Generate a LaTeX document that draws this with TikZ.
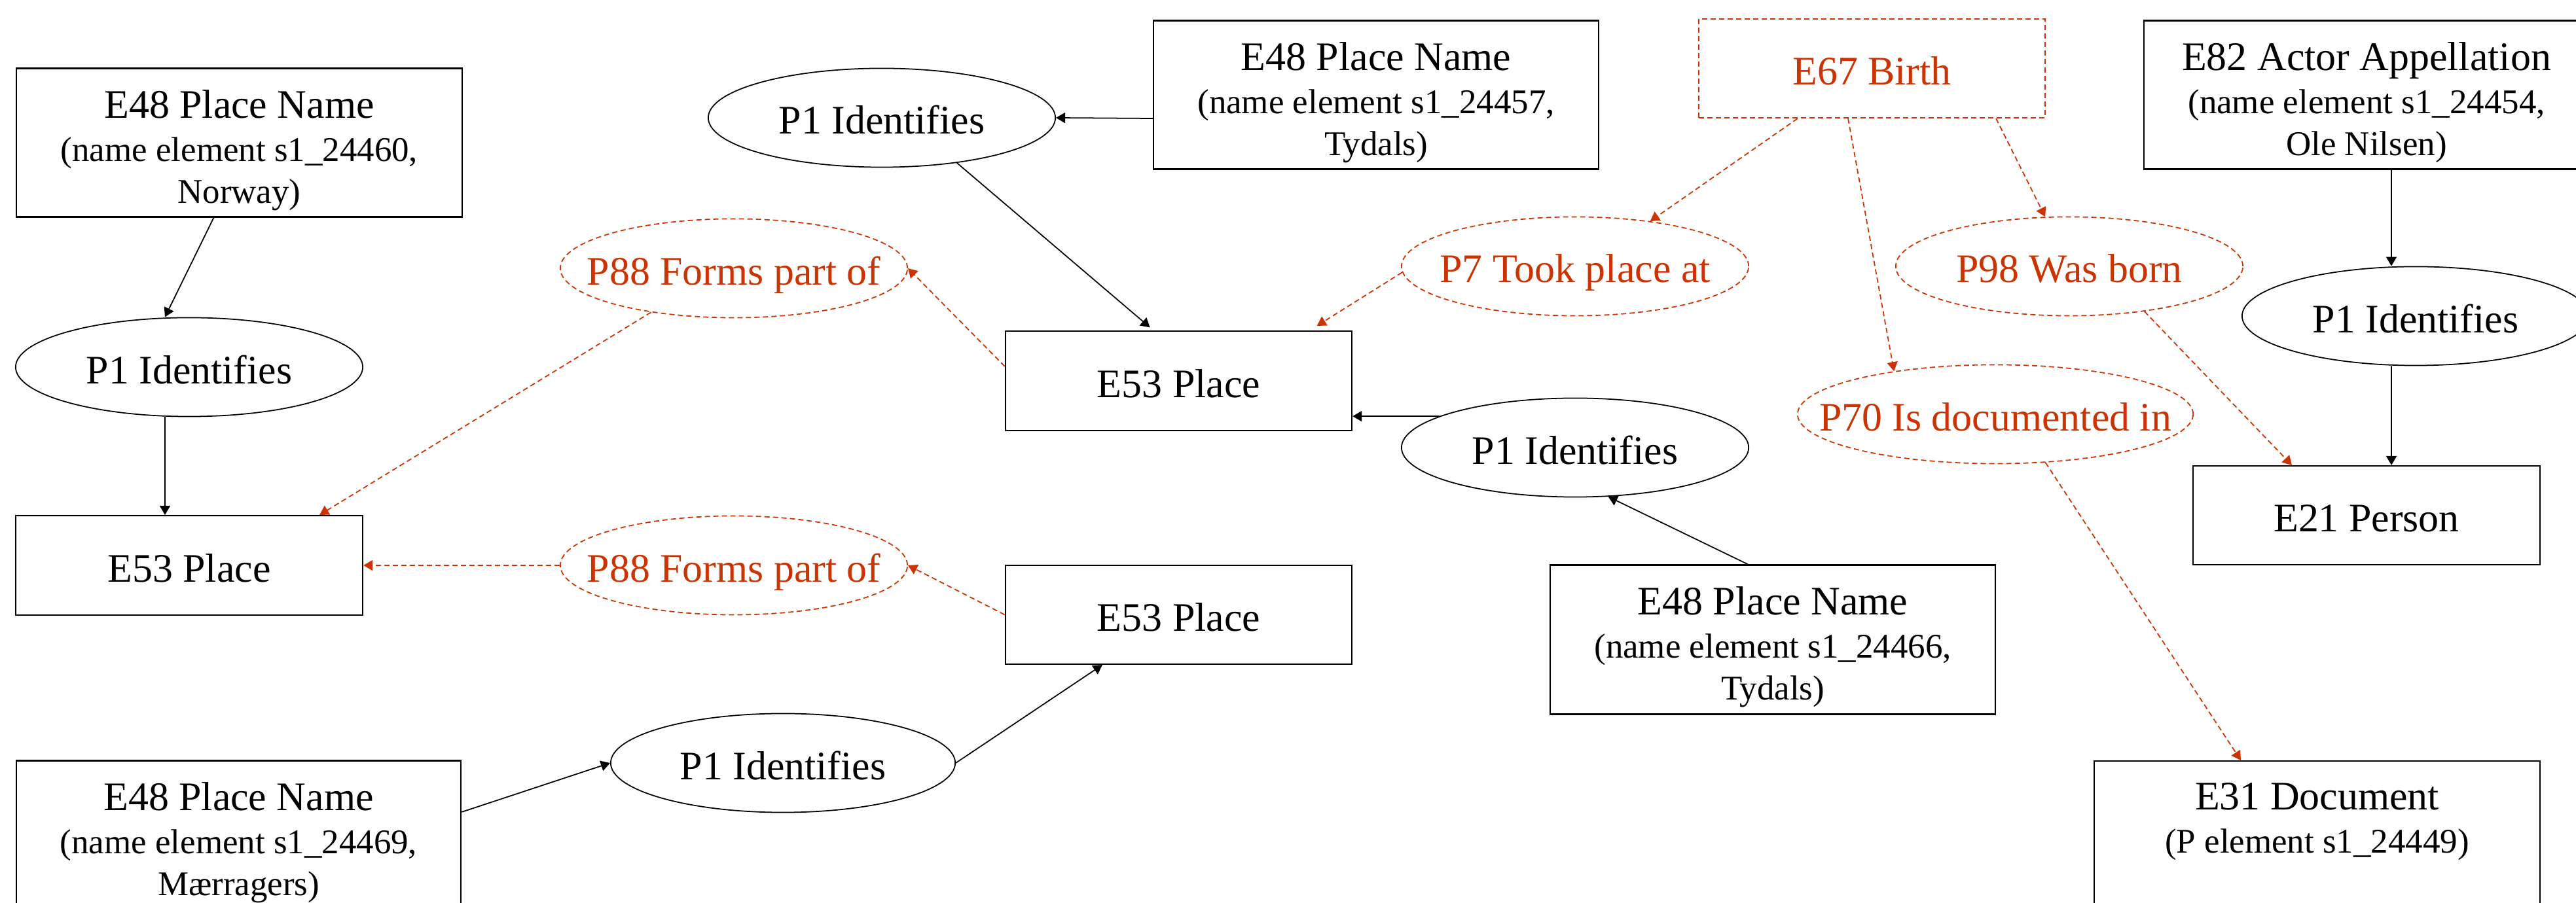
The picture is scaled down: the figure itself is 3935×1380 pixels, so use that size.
\documentclass[tikz,border=0pt]{standalone}
\usepackage{fontspec}
\setmainfont{Liberation Serif}
\usetikzlibrary{arrows.meta,shapes.geometric}
\definecolor{myred}{RGB}{204,51,0}
\newcommand\mytitlefont{\fontsize{17.6pt}{21pt}\selectfont}
\newcommand\mysubfont{\fontsize{15.05pt}{18.2pt}\selectfont}
\begin{document}
\begin{tikzpicture}[x=0.01cm,y=-0.01cm,
  box/.style={rectangle, draw, line width=0.6pt, inner sep=0pt, minimum width=5.3cm, minimum height=1.51cm, font=\mytitlefont, text height=0.5cm, text depth=0cm},
  box3/.style={rectangle, draw, line width=0.6pt, inner sep=0pt, minimum width=6.8cm, minimum height=2.26cm, font=\mysubfont, align=center},
  rel/.style={ellipse, draw, line width=0.5pt, inner sep=0pt, minimum width=5.3cm, minimum height=1.51cm, font=\mytitlefont, text height=0.5cm, text depth=0cm},
  reddash/.style={draw=myred, dash pattern=on 0.08cm off 0.05cm},
  redrel/.style={rel, reddash, text=myred},
  redbox/.style={box, reddash, text=myred},
  arr/.style={draw, line width=0.5pt, -{Triangle[length=0.14cm,width=0.16cm]}},
  rarr/.style={arr, reddash}]
\useasboundingbox (0,0) rectangle (3935,1380);
\clip (0,0) rectangle (3935,1380);

% nodes
\node[box3, minimum width=6.81cm] (en) at (365.5,218) {{\mytitlefont\rule{0pt}{0.76cm}E48 Place Name}\\[0.02cm](name element s1\_24460,\\Norway)\rule[-0.21cm]{0pt}{0pt}};
\node[rel] (pa) at (289,561) {\makebox[0pt]{P1 Identifies}};
\node[box, minimum height=1.52cm] (pl1) at (289,864) {E53 Place};
\node[redrel] (p88a) at (1121,410) {\makebox[0pt]{P88 Forms part of}};
\node[redrel] (p88b) at (1121,864) {\makebox[0pt]{P88 Forms part of}};
\node[rel] (pt) at (1347,180) {\makebox[0pt]{P1 Identifies}};
\node[box3] (et) at (2102,145) {{\mytitlefont\rule{0pt}{0.76cm}E48 Place Name}\\[0.02cm](name element s1\_24457,\\Tydals)\rule[-0.21cm]{0pt}{0pt}};
\node[box, minimum width=5.29cm, minimum height=1.52cm] (pm) at (1800.5,582) {E53 Place};
\node[redrel] (p7) at (2406,407) {\makebox[0pt]{P7 Took place at}};
\node[rel] (p1m) at (2406,684) {\makebox[0pt]{P1 Identifies}};
\node[box3, minimum height=2.27cm] (et2) at (2708,977.5) {{\mytitlefont\rule{0pt}{0.76cm}E48 Place Name}\\[0.02cm](name element s1\_24466,\\Tydals)\rule[-0.22cm]{0pt}{0pt}};
\node[redbox, minimum width=5.29cm] (birth) at (2859.5,104.5) {E67 Birth};
\node[redrel] (p98) at (3161,407) {\makebox[0pt]{P98 Was born}};
\node[redrel, minimum width=6.04cm] (p70) at (3048,633) {\makebox[0pt]{P70 Is documented in}};
\node[box3] (e82) at (3615,145) {{\mytitlefont\rule{0pt}{0.76cm}E82 Actor Appellation}\\[0.02cm](name element s1\_24454,\\Ole Nilsen)\rule[-0.21cm]{0pt}{0pt}};
\node[rel] (p1r) at (3690,483) {\makebox[0pt]{P1 Identifies}};
\node[box] (e21) at (3615,787.5) {E21 Person};
\node[box3, minimum width=6.81cm] (e31) at (3539.5,1277) {{\mytitlefont\rule{0pt}{0.75cm}E31 Document}\\[0.02cm](P element s1\_24449)\rule[-0.87cm]{0pt}{0pt}};
\node[box3, minimum width=6.79cm] (em) at (364.5,1276) {{\mytitlefont\rule{0pt}{0.76cm}E48 Place Name}\\[0.02cm](name element s1\_24469,\\Mærragers)\rule[-0.21cm]{0pt}{0pt}};
\node[rel, minimum width=5.26cm] (p1b) at (1196,1166) {\makebox[0pt]{P1 Identifies}};
\node[box, minimum width=5.29cm] (pb) at (1800.5,939.5) {E53 Place};

% black connectors
\draw[arr] ([xshift=-0.39cm]en.south) -- ([xshift=-0.37cm]pa.north);
\draw[arr] ([xshift=-0.37cm]pa.south) -- ([xshift=-0.37cm]pl1.north);
\draw[arr] ([yshift=-0.36cm]et.west) -- (pt.east);
\draw[arr, shorten >=0.07cm] (pt.-31) -- ([xshift=-0.385cm]pm.north);
\draw[arr] (p1m.167) -- (pm.east |- p1m.167);
\draw[arr] ([xshift=-0.38cm]et2.north) -- (p1m.-56);
\draw[arr] ([xshift=0.38cm]e82.south) -- ([xshift=-0.37cm]p1r.north);
\draw[arr] ([xshift=-0.37cm]p1r.south) -- ([xshift=0.38cm]e21.north);
\draw[arr] ([yshift=0.35cm]em.east) -- (p1b.west);
\draw[arr] (p1b.east) -- ([xshift=-1.165cm]pb.south);

% red dashed connectors
\draw[rarr] ([yshift=0.22cm]pm.west) -- (p88a.east);
\draw[rarr] (p88a.208) -- ([xshift=-0.67cm]pl1.north east);
\draw[rarr] (pb.west) -- (p88b.east);
\draw[rarr] (p88b.west) -- (pl1.east);
\draw[rarr, shorten >=0.13cm] (p7.182) -- ([xshift=2cm]pm.north);
\draw[rarr] ([xshift=-1.135cm]birth.south) -- (p7.31);
\draw[rarr] ([xshift=-0.365cm]birth.south) -- (p70.157);
\draw[rarr] ([xshift=1.895cm]birth.south) -- (p98.116);
\draw[rarr] (p98.-31) -- ([xshift=-1.14cm]e21.north);
\draw[rarr] (p70.-44) -- ([xshift=-1.165cm]e31.north);
\end{tikzpicture}
\end{document}
